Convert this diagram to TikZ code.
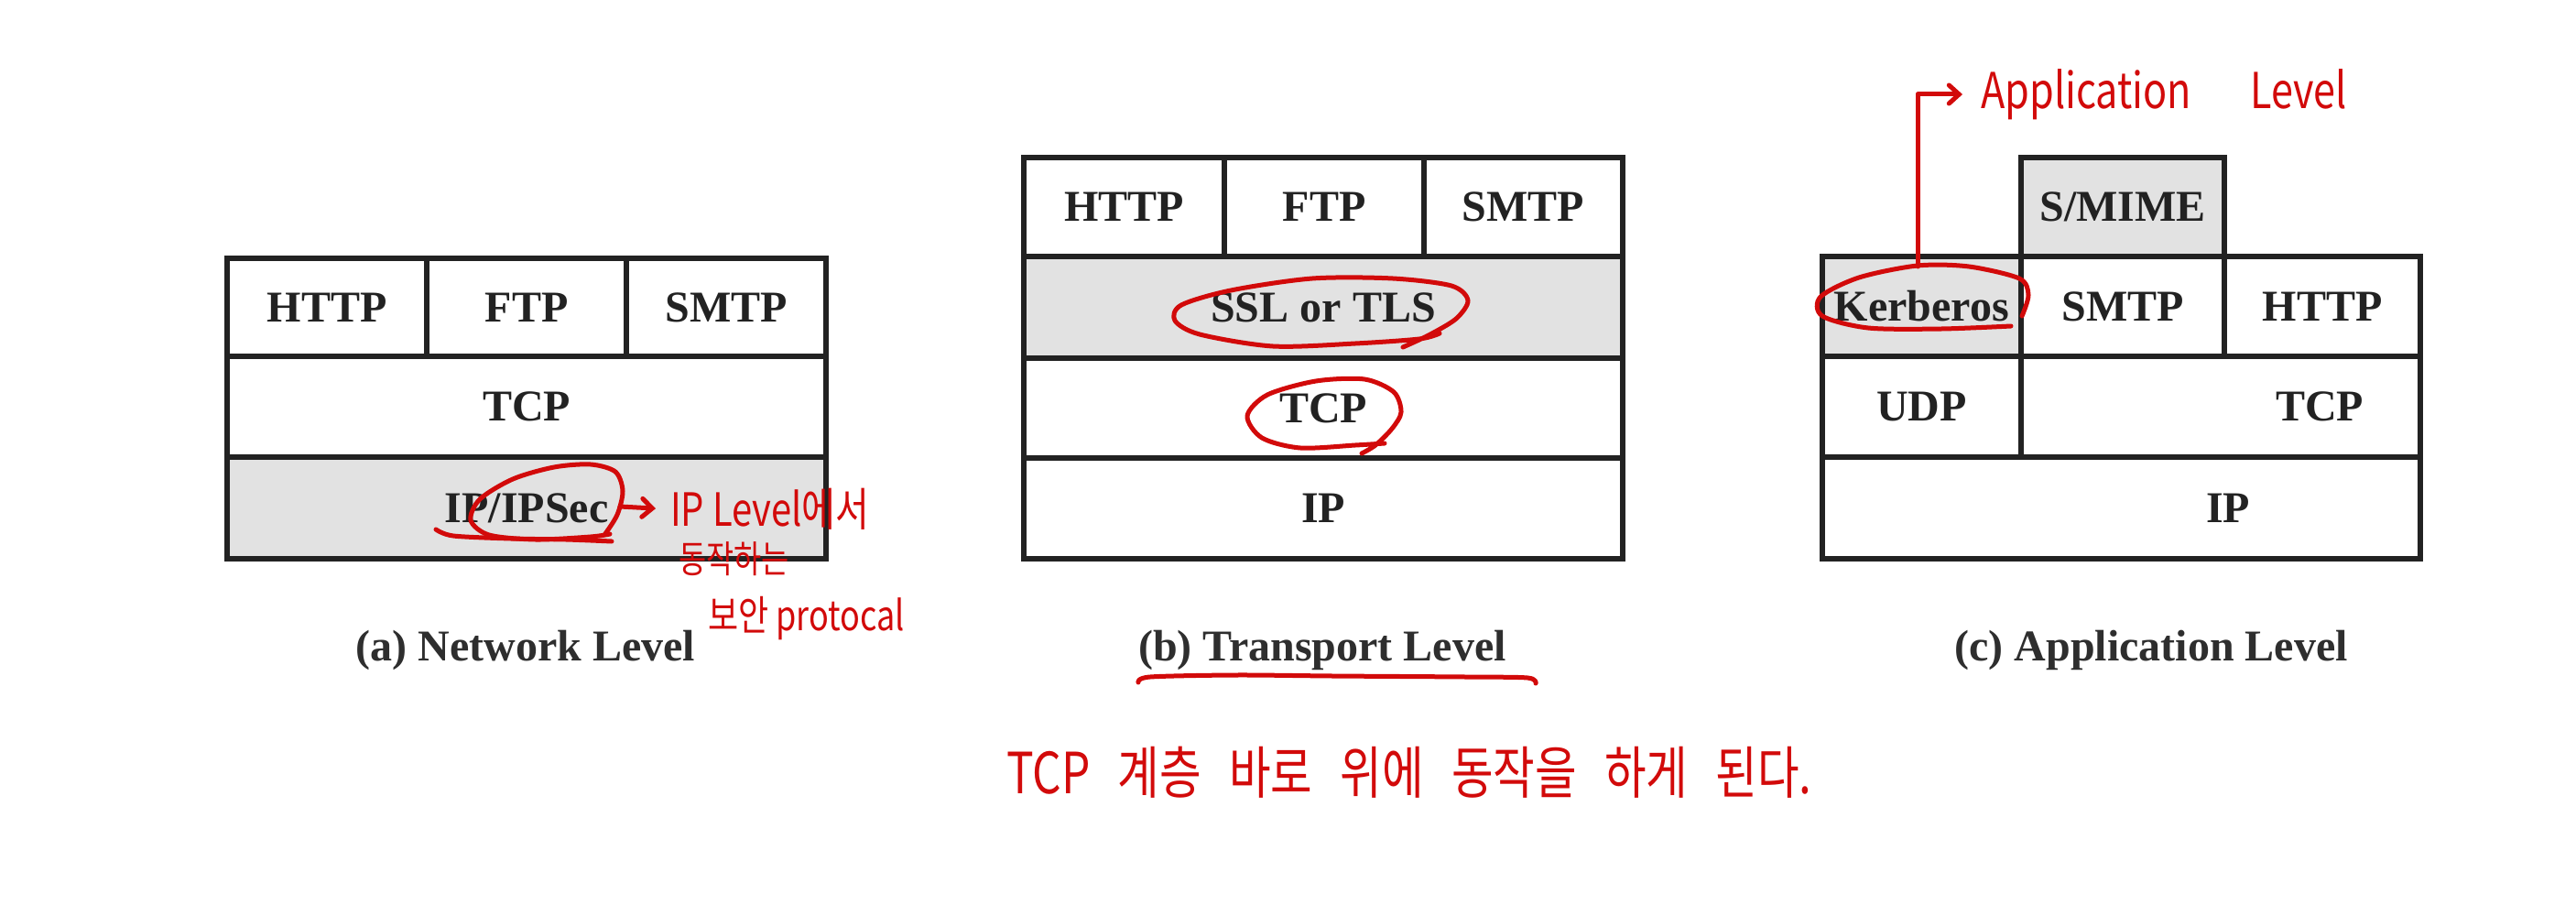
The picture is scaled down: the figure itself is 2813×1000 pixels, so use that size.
\documentclass[tikz,border=0pt]{standalone}
\usepackage{fontspec}
\setmainfont{Liberation Serif}
\newfontfamily\handfont[FakeStretch=0.8]{Noto Sans CJK KR}
\usetikzlibrary{arrows.meta}
\definecolor{ink}{HTML}{222222}
\definecolor{capink}{HTML}{2E2E2E}
\definecolor{shade}{HTML}{E2E2E2}
\definecolor{pen}{HTML}{D20A0A}
\begin{document}
\begin{tikzpicture}[x=1pt,y=-1pt,
  cell/.style={draw=ink, line width=5.5pt, fill=white, inner sep=0pt,
    font=\fontsize{48}{58}\selectfont\bfseries, text=ink},
  grey/.style={fill=shade},
  txt/.style={inner sep=0pt, font=\fontsize{48}{58}\selectfont\bfseries, text=ink},
  captext/.style={inner sep=0pt, font=\fontsize{48}{58}\selectfont\bfseries, text=capink},
  hand/.style={draw=pen, line width=5pt, line cap=round, line join=round},
  handarrow/.style={hand, -{Straight Barb[length=11pt,width=20pt,line cap=round]}},
  note/.style={text=pen, inner sep=0pt}]
\fill[white] (0,0) rectangle (2813,1000);
\useasboundingbox (0,0) rectangle (2813,1000);

% ---------- (a) Network Level ----------
\node[cell, minimum width=218pt, minimum height=107pt] (a-http) at (357,335.5) {HTTP};
\node[cell, minimum width=218pt, minimum height=107pt] (a-ftp) at (575,335.5) {FTP};
\node[cell, minimum width=218pt, minimum height=107pt] (a-smtp) at (793,335.5) {SMTP};
\node[cell, minimum width=654pt, minimum height=110pt] (a-tcp) at (575,444) {TCP};
\node[cell, grey, minimum width=654pt, minimum height=111pt] (a-ip) at (575,554.5) {IP/IPSec};
\node[captext] (a-cap) at (574,710) {(a) Network Level};

% ---------- (b) Transport Level ----------
\node[cell, minimum width=219pt, minimum height=108pt] (b-http) at (1227.5,226) {HTTP};
\node[cell, minimum width=218pt, minimum height=108pt] (b-ftp) at (1446,226) {FTP};
\node[cell, minimum width=217pt, minimum height=108pt] (b-smtp) at (1663.5,226) {SMTP};
\node[cell, grey, minimum width=654pt, minimum height=111pt] (b-ssl) at (1445,335.5) {SSL or TLS};
\node[cell, minimum width=654pt, minimum height=109pt] (b-tcp) at (1445,445.5) {TCP};
\node[cell, minimum width=654pt, minimum height=110pt] (b-ip) at (1445,555) {IP};
\node[captext] (b-cap) at (1444,710) {(b) Transport Level};

% ---------- (c) Application Level ----------
\node[cell, grey, minimum width=222pt, minimum height=108pt] (c-smime) at (2318,226) {S/MIME};
\node[cell, grey, minimum width=217pt, minimum height=109pt] (c-kerb) at (2098.5,334.5) {Kerberos};
\node[cell, minimum width=222pt, minimum height=109pt] (c-smtp) at (2318,334.5) {SMTP};
\node[cell, minimum width=214pt, minimum height=109pt] (c-http) at (2536,334.5) {HTTP};
\node[cell, minimum width=217pt, minimum height=110pt] (c-udp) at (2098.5,444) {UDP};
\node[cell, minimum width=436pt, minimum height=110pt] (c-tcp) at (2425,444) {};
\node[txt] (c-tcptxt) at (2533,444) {TCP};
\node[cell, minimum width=653pt, minimum height=111pt] (c-ip) at (2316.5,554.5) {};
\node[txt] (c-iptxt) at (2433,554.5) {IP};
\node[captext] (c-cap) at (2349,710) {(c) Application Level};

% ---------- red annotations ----------
% (a) loop around IP/IPSec
\draw[hand] plot[smooth] coordinates {(660,584) (674,562) (680,536) (672,515) (645,507) (605,510) (560,523) (524,545) (514,568) (534,584) (585,589) (645,586) (666,583)};
\draw[hand] plot[smooth] coordinates {(476,578) (495,585) (558,588) (618,589) (668,591)};
\coordinate (a-from) at (677,553);
\node[note, font=\handfont\fontsize{50}{52}\selectfont, anchor=west] (ipnote) at (732,556) {IP Level에서};
\node[note, font=\handfont\fontsize{41}{44}\selectfont, anchor=west] (ipnote2) at (741,610) {동작하는};
\node[note, font=\handfont\fontsize{45}{48}\selectfont, anchor=west] (ipnote3) at (773,675) {보안 protocal};
\draw[handarrow, shorten >=16pt] (a-from) -- (ipnote.west);

% (b) loops and underline
\draw[hand] plot[smooth] coordinates {(1532,379) (1560,366) (1590,348) (1603,328) (1585,312) (1521,304) (1433,304) (1344,317) (1290,333) (1283,350) (1310,365) (1390,378) (1480,375) (1550,370) (1572,364)};
\draw[hand] plot[smooth] coordinates {(1487,495) (1502,486) (1520,468) (1530,450) (1522,428) (1490,414) (1437,416) (1384,431) (1362,454) (1378,478) (1420,489) (1480,486) (1512,484)};
\draw[hand] plot[smooth] coordinates {(1243,745) (1256,739) (1350,737) (1455,738) (1600,739) (1668,740) (1677,746)};
\node[note, font=\handfont\fontsize{62}{64}\selectfont] (tcpnote) at (1539,843) {TCP\hspace{19pt} 계층\hspace{19pt} 바로\hspace{19pt} 위에\hspace{19pt} 동작을\hspace{19pt} 하게\hspace{19pt} 된다.};

% (c) loop around Kerberos and arrow
\draw[hand] plot[smooth] coordinates {(2208,345) (2215,322) (2205,304) (2150,291) (2094,290) (2030,303) (1988,324) (1990,345) (2040,358) (2120,359) (2196,356)};
\coordinate (k-top) at (2094,291);
\node[note, font=\handfont\fontsize{54}{56}\selectfont, anchor=west] (appnote) at (2163,103) {Application\hspace{64pt}Level};
\draw[handarrow, shorten >=20pt] (k-top) |- (appnote.west);
\end{tikzpicture}
\end{document}
